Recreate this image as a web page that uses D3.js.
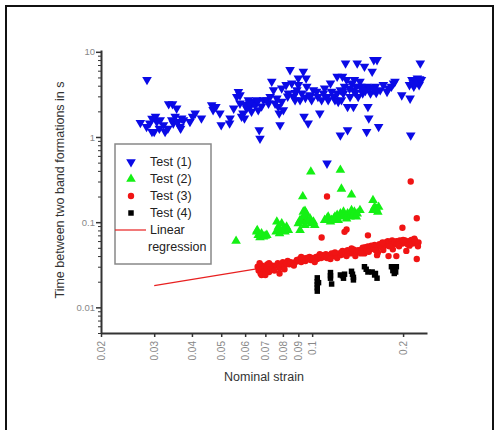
<!DOCTYPE html>
<html>
<head>
<meta charset="utf-8">
<script src="https://cdn.jsdelivr.net/npm/d3@7"></script>
<style>
  body { margin: 0; background: #fff; }
  svg { font-family: "Liberation Sans", Arial, sans-serif; }
</style>
</head>
<body>
<div class="chart"></div>
<script>
  // Test (1): [nominal strain, time]
  var test1 = [
    [0.027,1.47],[0.0283,1.32],[0.0295,1.65],[0.030,1.15],[0.0306,1.51],[0.0312,1.26],[0.0322,1.38],[0.0326,1.15],
    [0.0303,1.74],[0.0314,1.58],[0.0333,1.26],[0.0295,1.15],[0.0290,1.45],[0.0284,4.69],
    [0.0335,2.44],[0.0345,2.44],[0.0356,2.17],[0.0352,1.74],[0.0347,1.45],[0.0343,1.58],[0.0365,1.32],[0.037,1.66],
    [0.036,1.51],[0.0375,1.58],[0.0367,1.26],[0.0402,1.74],[0.041,1.90],[0.0394,1.51],[0.043,1.66],
    [0.0465,2.38],[0.047,2.08],[0.048,2.27],[0.0495,1.90],[0.050,1.38],[0.0535,1.66],[0.0533,1.45],[0.055,2.17],
    [0.0563,2.97],[0.057,3.4],[0.0577,2.48],[0.059,1.90],[0.0597,1.66],[0.0584,1.74],[0.0615,2.72],[0.0623,2.27],
    [0.064,2.6],[0.0607,2.17],[0.063,1.99],[0.0577,3.1],[0.0655,2.72],[0.0663,2.07],[0.0647,2.38],[0.06,2.4],
    [0.062,2.5],[0.066,2.6],[0.068,2.3],[0.0668,1.21],[0.0672,0.96],
    [0.069,2.72],[0.0708,2.72],[0.0717,2.48],[0.0726,2.97],[0.0735,4.49],[0.0745,3.57],[0.0754,2.48],[0.0764,2.84],
    [0.0773,2.27],[0.0778,1.90],[0.0783,1.38],[0.0793,2.6],[0.0803,2.07],[0.0793,3.74],
    [0.082,4.09],[0.0834,3.26],[0.0845,6.14],[0.0856,4.28],[0.0867,2.97],[0.0878,2.72],[0.089,3.57],[0.09,4.09],
    [0.09,4.9],[0.0912,2.72],[0.0924,3.26],[0.0935,5.87],[0.094,1.74],[0.0955,4.9],[0.096,3.91],[0.097,1.45],
    [0.083,3.0],[0.088,3.3],[0.095,2.9],[0.098,3.1],
    [0.0984,2.97],[0.0996,2.72],[0.101,3.57],[0.1035,3.41],[0.1045,2.97],[0.106,1.90],[0.1075,2.72],[0.109,3.26],
    [0.110,3.74],[0.112,2.97],[0.113,2.72],[0.115,4.28],[0.116,3.41],[0.118,2.97],[0.119,2.72],[0.121,3.26],
    [0.121,5.13],[0.122,2.6],[0.124,3.57],[0.124,1.05],[0.125,2.72],[0.126,5.13],[0.127,3.26],[0.128,3.91],
    [0.129,7.35],[0.130,4.69],[0.131,2.27],[0.131,1.21],[0.1335,2.97],[0.135,4.28],[0.137,3.57],[0.137,2.27],
    [0.138,4.69],[0.140,3.91],[0.141,7.35],[0.142,2.97],[0.144,4.49],[0.145,3.91],[0.147,3.26],[0.149,6.72],
    [0.1515,3.91],[0.1515,1.15],[0.153,2.27],[0.154,1.66],[0.156,3.26],[0.158,5.87],[0.160,8.05],[0.162,3.91],
    [0.164,8.05],[0.166,1.32],[0.168,3.57],[0.172,4.09],[0.177,3.41],[0.179,3.74],[0.183,3.91],[0.186,4.28],
    [0.126,3.4],[0.133,3.7],[0.139,3.3],[0.146,3.6],[0.15,3.5],[0.155,3.8],[0.16,3.6],[0.163,3.3],
    [0.188,4.49],[0.198,3.1],[0.210,4.09],[0.211,2.84],[0.212,1.05],[0.214,4.69],[0.217,3.91],[0.22,4.49],
    [0.223,4.9],[0.226,4.09],[0.228,7.35],[0.23,4.69],[0.216,4.3],[0.219,4.7],[0.224,4.4],[0.227,4.8],[0.218,4.1],
    [0.112,0.49]
  ];

  // Test (2)
  var test2 = [
    [0.056,0.060],
    [0.0655,0.077],[0.0663,0.0704],[0.0672,0.066],[0.068,0.0736],[0.069,0.0673],[0.0699,0.069],[0.0708,0.0704],[0.0658,0.0805],
    [0.0764,0.101],[0.0773,0.0881],[0.0783,0.0805],[0.0793,0.0965],[0.0803,0.0842],[0.0813,0.077],[0.0823,0.0881],
    [0.0834,0.0805],[0.076,0.077],[0.078,0.0736],
    [0.09,0.0965],[0.0912,0.1057],[0.0924,0.101],[0.0935,0.1155],[0.0947,0.092],[0.096,0.1057],[0.097,0.101],
    [0.0984,0.110],[0.0996,0.0965],[0.101,0.101],[0.102,0.092],[0.0912,0.0805],[0.0955,0.126],[0.0935,0.132],
    [0.0931,0.20],[0.099,0.39],[0.0947,0.135],[0.124,0.41],[0.125,0.246],[0.135,0.21],[0.159,0.181],
    [0.110,0.1057],[0.112,0.110],[0.113,0.1155],[0.115,0.101],[0.116,0.1057],[0.118,0.110],[0.119,0.1155],
    [0.121,0.121],[0.122,0.1057],[0.124,0.126],[0.125,0.1155],[0.127,0.132],[0.128,0.121],[0.130,0.110],
    [0.131,0.126],[0.1335,0.1155],[0.135,0.138],[0.137,0.121],[0.138,0.132],[0.140,0.1155],[0.141,0.126],[0.144,0.138],
    [0.159,0.138],[0.161,0.151],[0.163,0.144],[0.165,0.132],[0.166,0.151]
  ];

  // Test (3)
  var test3 = [
    [0.095,0.111],[0.112,0.20],[0.1075,0.066],[0.128,0.077],[0.130,0.082],[0.153,0.070],[0.199,0.086],[0.212,0.30],
    [0.222,0.111],[0.222,0.037],[0.19,0.040],[0.179,0.040],[0.164,0.041],[0.149,0.043],[0.078,0.025],
    [0.066,0.030],[0.0665,0.027],[0.067,0.029],[0.0675,0.025],[0.068,0.031],[0.0685,0.028],[0.069,0.026],[0.0695,0.030],
    [0.070,0.027],[0.0705,0.029],[0.071,0.032],[0.0715,0.028],[0.072,0.026],[0.0725,0.030],[0.073,0.029],[0.0735,0.031],[0.074,0.028],
    [0.076,0.031],[0.077,0.033],[0.078,0.029],[0.079,0.032],[0.080,0.034],[0.081,0.031],[0.082,0.033],[0.083,0.035],
    [0.084,0.032],[0.085,0.034],[0.086,0.033],
    [0.088,0.034],[0.089,0.036],[0.090,0.035],[0.091,0.037],[0.092,0.034],[0.093,0.038],[0.094,0.036],[0.095,0.035],
    [0.096,0.038],[0.097,0.037],[0.098,0.039],[0.099,0.036],[0.100,0.038],[0.101,0.037],
    [0.103,0.039],[0.104,0.037],[0.105,0.040],[0.107,0.038],[0.108,0.041],[0.109,0.039],[0.110,0.040],[0.111,0.042],
    [0.112,0.038],[0.113,0.041],[0.114,0.040],[0.116,0.043],[0.117,0.041],[0.118,0.040],[0.120,0.042],[0.121,0.038],
    [0.123,0.043],[0.124,0.041],[0.125,0.044],[0.126,0.046],[0.127,0.042],[0.128,0.045],[0.129,0.043],[0.131,0.047],
    [0.132,0.044],[0.133,0.046],[0.134,0.043],[0.136,0.045],[0.137,0.048],[0.138,0.044],[0.139,0.040],[0.140,0.046],
    [0.142,0.047],[0.143,0.045],
    [0.146,0.048],[0.147,0.050],[0.148,0.046],[0.150,0.051],[0.151,0.049],[0.152,0.047],[0.153,0.052],[0.155,0.050],
    [0.156,0.048],[0.157,0.053],[0.159,0.051],[0.160,0.049],[0.161,0.054],[0.163,0.052],[0.164,0.050],[0.165,0.044],
    [0.167,0.055],[0.168,0.053],[0.170,0.051],
    [0.173,0.056],[0.175,0.058],[0.176,0.054],[0.178,0.060],[0.179,0.057],[0.181,0.055],[0.183,0.059],[0.184,0.061],
    [0.186,0.056],[0.188,0.058],[0.190,0.060],[0.191,0.055],[0.193,0.057],[0.195,0.061],[0.197,0.058],[0.199,0.056],
    [0.201,0.059],[0.203,0.061],[0.205,0.057],[0.207,0.055],[0.209,0.060],[0.211,0.058],[0.213,0.062],[0.215,0.056],
    [0.217,0.059],[0.219,0.061],[0.221,0.057],[0.223,0.055],[0.225,0.058],[0.185,0.048],[0.205,0.046],[0.172,0.047],
    [0.068,0.024],[0.072,0.033],[0.075,0.027],[0.087,0.031],[0.092,0.039],[0.102,0.034],[0.106,0.042],[0.115,0.037],
    [0.119,0.044],[0.130,0.040],[0.135,0.049],[0.145,0.043],[0.154,0.045],[0.162,0.047],[0.171,0.058],[0.180,0.052],
    [0.194,0.052],[0.200,0.062],[0.210,0.053],[0.218,0.064],[0.224,0.052],[0.067,0.033],[0.070,0.024],[0.081,0.028]
  ];

  // Test (4)
  var test4 = [
    [0.104,0.0222],[0.104,0.020],[0.104,0.0185],[0.104,0.017],[0.104,0.0155],[0.105,0.0195],
    [0.115,0.0256],[0.115,0.0235],[0.115,0.022],[0.116,0.0188],
    [0.124,0.024],[0.126,0.0235],[0.127,0.022],[0.128,0.0245],
    [0.135,0.0265],[0.136,0.0245],[0.137,0.0225],[0.137,0.021],
    [0.149,0.030],[0.151,0.028],[0.153,0.026],
    [0.158,0.026],[0.161,0.024],[0.164,0.022],[0.162,0.025],
    [0.183,0.030],[0.186,0.029],[0.188,0.028],[0.190,0.030],[0.185,0.027],[0.187,0.025],[0.189,0.026]
  ];

  // linear regression (log-log)
  var regression = [[0.03,0.018],[0.225,0.058]];

  var xTicks = [0.02,0.03,0.04,0.05,0.06,0.07,0.08,0.09,0.1,0.2];
  var yTicks = [0.01,0.1,1,10];
  var legendNames = ["Test (1)","Test (2)","Test (3)","Test (4)"];
  var colors = ["#0a0ae6","#14f014","#f01414","#000000"];

  var width = 497, height = 430;

  var svg = d3.select(".chart")
    .append("svg")
    .attr("width", width)
    .attr("height", height);

  // outer frame
  svg.append("rect")
    .attr("x", 6).attr("y", 6)
    .attr("width", 487).attr("height", 440)
    .attr("fill", "none")
    .attr("stroke", "#111")
    .attr("stroke-width", 2);

  var x = d3.scaleLog().domain([0.02, 0.24]).range([101, 427]);
  var y = d3.scaleLog().domain([0.005, 10.5]).range([333, 50]);

  // y minor ticks
  var yMinor = [];
  [0.001,0.01,0.1,1].forEach(function(dec){
    for (var k = 2; k <= 9; k++) {
      var v = dec*k;
      if (v >= 0.005 && v <= 10.5) yMinor.push(v);
    }
  });

  var yAxisMinor = svg.append("g")
    .attr("transform", "translate(101,0)")
    .call(d3.axisLeft(y).tickValues(yMinor).tickSize(3).tickFormat(""));
  yAxisMinor.select(".domain").remove();
  yAxisMinor.selectAll("line").attr("stroke", "#333");

  var yAxis = svg.append("g")
    .attr("transform", "translate(101,0)")
    .call(d3.axisLeft(y).tickValues(yTicks).tickSize(5).tickSizeOuter(0)
      .tickFormat(function(d){ return d3.format("~g")(d); }));
  yAxis.select(".domain").attr("stroke", "#333").attr("stroke-width", 2);
  yAxis.selectAll("line").attr("stroke", "#333").attr("stroke-width", 1.5);
  yAxis.selectAll("text")
    .attr("fill", "#888")
    .style("font-size", "9.5px")
    .attr("x", -6);

  var xAxis = svg.append("g")
    .attr("transform", "translate(0,333)")
    .call(d3.axisBottom(x).tickValues(xTicks).tickSize(4).tickSizeOuter(0)
      .tickFormat(function(d){ return d3.format("~g")(d); }));
  xAxis.select(".domain").attr("stroke", "#333").attr("stroke-width", 2);
  xAxis.selectAll("line").attr("stroke", "#333").attr("stroke-width", 1.5);
  xAxis.selectAll("text")
    .attr("fill", "#888")
    .style("font-size", "10px")
    .attr("text-anchor", "end")
    .attr("transform", "rotate(-90)")
    .attr("x", -8)
    .attr("y", 0)
    .attr("dy", "0.35em");

  // axis titles
  svg.append("text")
    .attr("x", 264).attr("y", 381)
    .attr("text-anchor", "middle")
    .attr("fill", "#333")
    .style("font-size", "12.5px")
    .text("Nominal strain");

  svg.append("text")
    .attr("transform", "translate(64,190) rotate(-90)")
    .attr("text-anchor", "middle")
    .attr("fill", "#333")
    .style("font-size", "12.5px")
    .text("Time between two band formations in s");

  // regression line
  svg.append("path")
    .datum(regression)
    .attr("d", d3.line().x(function(d){ return x(d[0]); }).y(function(d){ return y(d[1]); }))
    .attr("stroke", "#e82020")
    .attr("stroke-width", 1.2)
    .attr("fill", "none");

  var downTri = d3.symbol().type(d3.symbolTriangle).size(40);
  var upTri = d3.symbol().type(d3.symbolTriangle).size(40);
  var circ = d3.symbol().type(d3.symbolCircle).size(32);
  var sq = d3.symbol().type(d3.symbolSquare).size(30);

  function drawSeries(data, sym, color, flip){
    svg.append("g").selectAll("path")
      .data(data)
      .enter()
      .append("path")
      .attr("d", sym)
      .attr("transform", function(d){
        return "translate(" + x(d[0]) + "," + y(d[1]) + ")" + (flip ? " rotate(180)" : "");
      })
      .attr("fill", color);
  }
  drawSeries(test4, sq, colors[3], false);
  drawSeries(test3, circ, colors[2], false);
  drawSeries(test2, upTri, colors[1], false);
  drawSeries(test1, downTri, colors[0], true);

  // legend
  var legend = svg.append("g").attr("transform", "translate(115,144)");
  legend.append("rect")
    .attr("width", 96).attr("height", 120)
    .attr("fill", "#fff")
    .attr("stroke", "#888")
    .attr("stroke-width", 1.5);

  var syms = [downTri, upTri, circ, sq];
  legendNames.forEach(function(name, i){
    legend.append("path")
      .attr("d", syms[i])
      .attr("transform", "translate(16," + (18 + i*17) + ")" + (i == 0 ? " rotate(180)" : ""))
      .attr("fill", colors[i]);
    legend.append("text")
      .attr("x", 35).attr("y", 18 + i*17)
      .attr("dy", "0.35em")
      .attr("fill", "#222")
      .style("font-size", "12.5px")
      .text(name);
  });
  legend.append("line")
    .attr("x1", 0).attr("x2", 31)
    .attr("y1", 86).attr("y2", 86)
    .attr("stroke", "#e82020")
    .attr("stroke-width", 1.2);
  legend.append("text")
    .attr("x", 35).attr("y", 86)
    .attr("dy", "0.35em")
    .attr("fill", "#222")
    .style("font-size", "12.5px")
    .text("Linear");
  legend.append("text")
    .attr("x", 33).attr("y", 103)
    .attr("dy", "0.35em")
    .attr("fill", "#222")
    .style("font-size", "12.5px")
    .text("regression");
</script>
</body>
</html>
